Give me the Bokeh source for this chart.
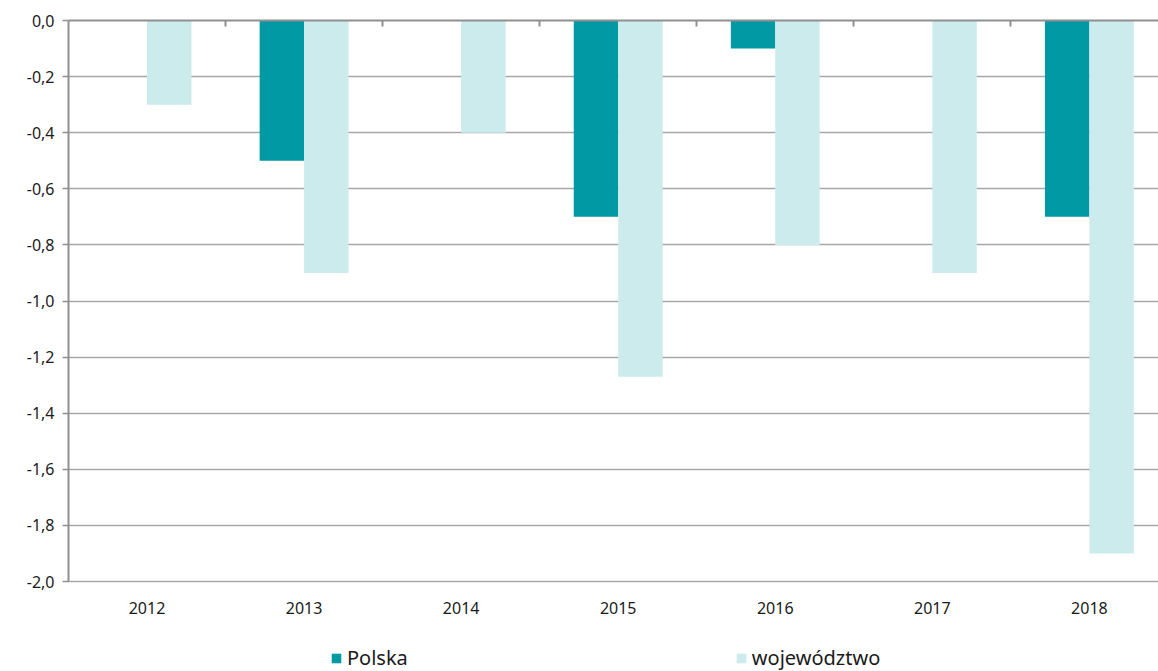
from bokeh.plotting import figure
from bokeh.models import (ColumnDataSource, Range1d, FixedTicker, LinearAxis,
                          CustomJSTickFormatter, Legend, LegendItem)
from bokeh.transform import dodge
from bokeh.layouts import column
from bokeh.embed import file_html
from bokeh.resources import INLINE

years = ["2012", "2013", "2014", "2015", "2016", "2017", "2018"]
polska = [0.0, -0.5, 0.0, -0.7, -0.1, 0.0, -0.7]
wojewodztwo = [-0.3, -0.9, -0.4, -1.27, -0.8, -0.9, -1.9]
y_ticks = [-2.0, -1.8, -1.6, -1.4, -1.2, -1.0, -0.8, -0.6, -0.4, -0.2, 0.0]
series_names = ["Polska", "województwo"]

idx = list(range(len(years)))
src = ColumnDataSource(dict(x=idx, polska=polska, woj=wojewodztwo))

FONT = "Noto Sans"
GRID = "#a6a6a6"
AXIS = "#909090"
C_POL = "#0099A4"
C_WOJ = "#CCEBED"

p = figure(width=1158, height=640, output_backend="svg", toolbar_location=None,
           x_range=Range1d(-0.5, 6.44), y_range=Range1d(-2.0, 0.0),
           x_axis_location=None, y_axis_location=None,
           min_border_left=68, min_border_right=0, min_border_top=20,
           min_border_bottom=59)
p.outline_line_color = None
p.background_fill_color = "white"
p.border_fill_color = "white"

bw = 0.283
r1 = p.vbar(x=dodge("x", -bw / 2), top="polska", bottom=0, width=bw,
            source=src, fill_color=C_POL, line_color=None)
r2 = p.vbar(x=dodge("x", bw / 2), top="woj", bottom=0, width=bw,
            source=src, fill_color=C_WOJ, line_color=None)

# left axis
yax = LinearAxis(ticker=FixedTicker(ticks=y_ticks))
yax.formatter = CustomJSTickFormatter(code="return tick.toFixed(1).replace('.', ',');")
yax.axis_line_color = AXIS
yax.axis_line_width = 2
yax.major_tick_line_color = AXIS
yax.major_tick_line_width = 1.5
yax.major_tick_out = 6
yax.major_tick_in = 0
yax.minor_tick_line_color = None
yax.major_label_standoff = 8
yax.major_label_text_font = FONT
yax.major_label_text_font_size = "16px"
yax.major_label_text_color = "#1a1a1a"
p.add_layout(yax, "left")

# top axis (category axis at y=0) with ticks at group boundaries
bounds = [i + 0.5 for i in idx[:-1]]
tax = LinearAxis(ticker=FixedTicker(ticks=bounds))
tax.formatter = CustomJSTickFormatter(code="return '';")
tax.axis_line_color = AXIS
tax.axis_line_width = 2
tax.major_tick_line_color = AXIS
tax.major_tick_line_width = 2
tax.major_tick_in = 6
tax.major_tick_out = 0
tax.minor_tick_line_color = None
tax.major_label_standoff = 0
p.add_layout(tax, "above")

# bottom axis for year labels
bax = LinearAxis(ticker=FixedTicker(ticks=idx))
bax.major_label_overrides = {i: y for i, y in zip(idx, years)}
bax.axis_line_color = GRID
bax.axis_line_width = 1.5
bax.major_tick_line_color = None
bax.minor_tick_line_color = None
bax.major_label_standoff = 14
bax.major_label_text_font = FONT
bax.major_label_text_font_size = "16px"
bax.major_label_text_color = "#1a1a1a"
p.add_layout(bax, "below")

p.xgrid.grid_line_color = None
p.ygrid.ticker = FixedTicker(ticks=y_ticks)
p.ygrid.grid_line_color = GRID
p.ygrid.grid_line_width = 1.5

# legend strip
p2 = figure(width=1158, height=31, output_backend="svg", toolbar_location=None,
            x_range=Range1d(0, 1), y_range=Range1d(0, 1),
            x_axis_location=None, y_axis_location=None,
            min_border_left=0, min_border_right=0, min_border_top=0,
            min_border_bottom=0)
p2.outline_line_color = None
p2.xgrid.grid_line_color = None
p2.ygrid.grid_line_color = None
# zero-size placeholder bars, only used to draw the legend swatches
dummy = ColumnDataSource(dict(x=[0], top=[0]))
d1 = p2.vbar(x="x", top="top", bottom=0, width=0, source=dummy,
             fill_color=C_POL, line_color=None)
d2 = p2.vbar(x="x", top="top", bottom=0, width=0, source=dummy,
             fill_color=C_WOJ, line_color=None)

lg = Legend(items=[LegendItem(label=series_names[0], renderers=[d1]),
                   LegendItem(label=series_names[1], renderers=[d2])],
            location=(262, 0), orientation="horizontal",
            padding=0, margin=0, spacing=327,
            glyph_width=12, glyph_height=12, label_standoff=5,
            label_text_font=FONT, label_text_font_size="20px",
            label_text_color="#1a1a1a", border_line_color=None,
            background_fill_alpha=0)
p2.add_layout(lg, "center")

layout = column(p, p2, spacing=0)
open("out.html", "w").write(file_html(layout, INLINE))
